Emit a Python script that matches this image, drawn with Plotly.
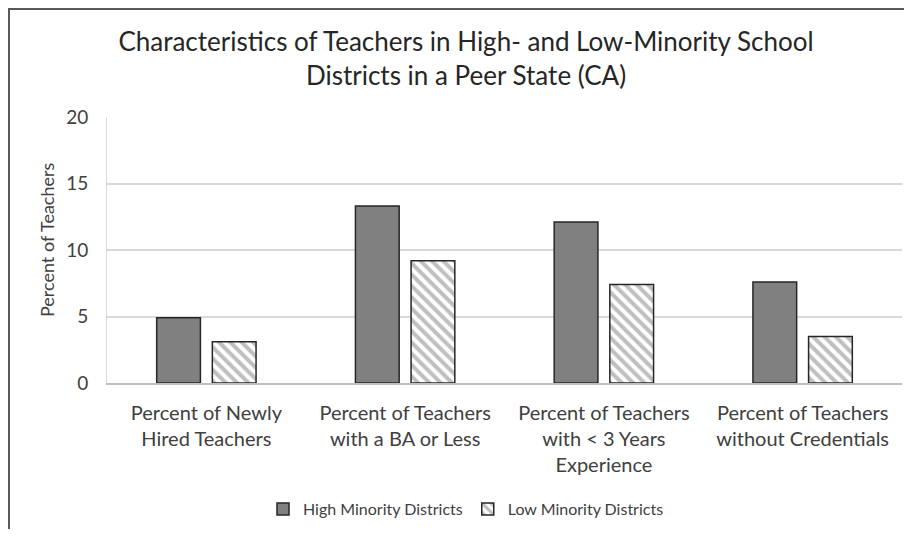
import plotly.graph_objects as go

categories = [
    "Percent of Newly<br>Hired Teachers",
    "Percent of Teachers<br>with a BA or Less",
    "Percent of Teachers<br>with < 3 Years<br>Experience",
    "Percent of Teachers<br>without Credentials",
]
high_minority = [4.9, 13.3, 12.1, 7.6]
low_minority = [3.1, 9.2, 7.4, 3.5]
y_ticks = [0, 5, 10, 15, 20]

FONT = "Lato"
# the page body adds an 8px margin, so figure pixel = reference pixel - 8
OFF = 8
W, H = 896, 521
ML, MR, MT, MB = 107 - OFF, 2, 117 - OFF, 146
PW, PH = W - ML - MR, H - MT - MB

fig = go.Figure()
fig.add_trace(go.Bar(
    x=categories, y=high_minority, name="High Minority Districts",
    marker=dict(color="#808080", line=dict(color="#262626", width=1.5)),
))
fig.add_trace(go.Bar(
    x=categories, y=low_minority, name="Low Minority Districts",
    marker=dict(color="white", line=dict(color="#262626", width=1.5),
                pattern=dict(shape="\\", fgcolor="#7f7f7f", bgcolor="white",
                             size=8, solidity=0.5)),
))

def px_x(p):
    return (p - OFF - ML) / PW

def px_y(p):
    return (H - MB - (p - OFF)) / PH

# outer frame (top and left edges visible in the reference)
fig.add_shape(type="line", xref="paper", yref="paper",
              x0=px_x(8), x1=px_x(930), y0=px_y(9), y1=px_y(9),
              line=dict(color="#595959", width=2))
fig.add_shape(type="line", xref="paper", yref="paper",
              x0=px_x(9), x1=px_x(9), y0=px_y(8), y1=px_y(560),
              line=dict(color="#595959", width=2))

# y-axis title placed as in the reference
fig.add_annotation(
    text="Percent of Teachers", textangle=-90,
    xref="paper", yref="paper", x=px_x(47), y=px_y(240),
    xanchor="center", yanchor="middle", showarrow=False,
    font=dict(family=FONT, size=18, color="#404040"),
)

fig.update_layout(
    width=W, height=H,
    margin=dict(l=ML, r=MR, t=MT, b=MB),
    paper_bgcolor="white", plot_bgcolor="white",
    font=dict(family=FONT, color="#404040"),
    barmode="group", bargap=0.44, bargroupgap=0.214,
    title=dict(
        text="Characteristics of Teachers in High- and Low-Minority School<br>Districts in a Peer State (CA)",
        x=(466 - OFF) / W, xanchor="center", y=1 - (51 - OFF) / H, yanchor="middle",
        font=dict(family=FONT, size=26, color="#262626"),
    ),
    legend=dict(orientation="h", x=px_x(466), xanchor="center",
                y=px_y(509), yanchor="middle",
                font=dict(family=FONT, size=16, color="#404040"),
                itemwidth=30, traceorder="normal"),
    showlegend=True,
)
fig.update_xaxes(
    showline=True, linecolor="#bfbfbf", linewidth=1.5,
    tickfont=dict(family=FONT, size=20, color="#404040"),
    ticks="", showgrid=False, ticklabelstandoff=11,
)
fig.update_yaxes(
    range=[0, 20], tickvals=y_ticks,
    showgrid=True, gridcolor="#d9d9d9", gridwidth=1.5,
    showline=True, linecolor="#d9d9d9", linewidth=1,
    zeroline=False,
    tickfont=dict(family=FONT, size=19, color="#404040"),
    ticks="", ticklabelstandoff=14,
)

fig.write_html("out.html")
